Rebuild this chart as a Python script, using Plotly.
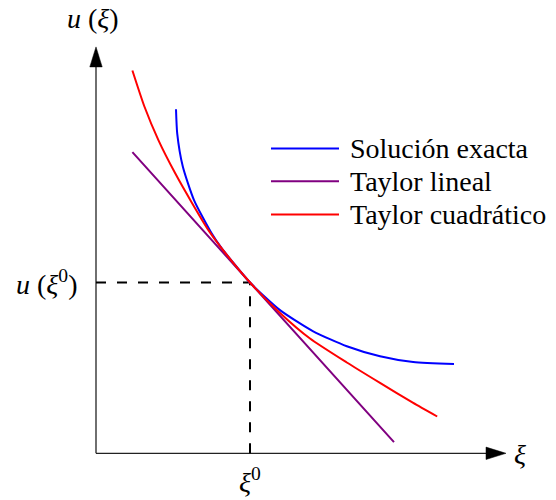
import plotly.graph_objects as go

# ---- data ----
xi0 = 3.85
u0 = 4.27

exact_xi = [2.0, 2.03, 2.17, 2.45, 2.89, 3.14, 3.85, 4.6, 5.43, 6.27, 7.1, 7.93, 8.95]
exact_u = [8.6, 8.0, 7.17, 6.33, 5.5, 5.13, 4.27, 3.58, 3.05, 2.675, 2.425, 2.28, 2.23]

lin_xi = [0.91, 3.85, 7.45]
lin_u = [7.53, 4.27, 0.28]

quad_xi = [0.91, 1.21, 1.56, 1.98, 2.4, 2.81, 3.1, 3.85, 4.6, 5.35, 6.27, 7.1, 7.93, 8.53]
quad_u = [9.57, 8.67, 7.83, 7.0, 6.26, 5.58, 5.18, 4.27, 3.51, 2.87, 2.27, 1.76, 1.26, 0.92]

names = ["Solución exacta", "Taylor lineal", "Taylor cuadrático"]
colors = ["#0000ff", "#800080", "#ff0000"]

# ---- axis geometry (data units) ----
x_range = [-2.4, 11.5]
y_range = [-1.1675, 11.3325]
x_tip, y_tip = 10.25, 10.16
head_len, head_half = 0.5, 0.155

FONT = "Liberation Serif"
FS = 28
fig = go.Figure()

series = [(exact_xi, exact_u), (lin_xi, lin_u), (quad_xi, quad_u)]
for (xs, ys), nm, col in zip(series, names, colors):
    fig.add_trace(go.Scatter(x=xs, y=ys, mode="lines", name=nm,
                             line=dict(color=col, width=2, shape="spline", smoothing=0.6),
                             showlegend=False, hoverinfo="skip"))

shapes = []
ax_col = "#222222"
# axes
shapes.append(dict(type="line", x0=0, y0=0, x1=x_tip - head_len, y1=0,
                   line=dict(color=ax_col, width=1.3), layer="below"))
shapes.append(dict(type="line", x0=0, y0=0, x1=0, y1=y_tip - head_len,
                   line=dict(color=ax_col, width=1.3), layer="below"))
# arrow heads
shapes.append(dict(type="path",
                   path=f"M {x_tip},0 L {x_tip-head_len},{head_half} L {x_tip-head_len},{-head_half} Z",
                   fillcolor="black", line=dict(color="black", width=0.5)))
shapes.append(dict(type="path",
                   path=f"M 0,{y_tip} L {-head_half},{y_tip-head_len} L {head_half},{y_tip-head_len} Z",
                   fillcolor="black", line=dict(color="black", width=0.5)))
# dashed guides
shapes.append(dict(type="line", x0=0, y0=u0, x1=xi0, y1=u0,
                   line=dict(color="black", width=2, dash="10px,11px"), layer="below"))
shapes.append(dict(type="line", x0=xi0, y0=0, x1=xi0, y1=u0,
                   line=dict(color="black", width=2, dash="10px,11px"), layer="below"))

# manual legend
leg_y = [7.62, 6.8, 5.97]
annotations = []
for nm, col, yy in zip(names, colors, leg_y):
    shapes.append(dict(type="line", x0=4.375, x1=6.075, y0=yy, y1=yy,
                       line=dict(color=col, width=2)))
    annotations.append(dict(x=6.3, y=yy, text=nm, showarrow=False,
                            xanchor="left", yanchor="middle",
                            font=dict(family=FONT, size=FS, color="black")))

# axis labels
annotations += [
    dict(x=-0.075, y=10.86, text="<i>u</i> (<i>ξ</i>)", showarrow=False,
         xanchor="center", yanchor="middle", font=dict(family=FONT, size=FS, color="black")),
    dict(x=-1.25, y=u0, text="<i>u</i> (<i>ξ</i><sup>0</sup>)", showarrow=False,
         xanchor="center", yanchor="middle", font=dict(family=FONT, size=FS, color="black")),
    dict(x=xi0, y=-0.67, text="<i>ξ</i><sup>0</sup>", showarrow=False,
         xanchor="center", yanchor="middle", font=dict(family=FONT, size=FS, color="black")),
    dict(x=10.6, y=-0.04, text="<i>ξ</i>", showarrow=False,
         xanchor="center", yanchor="middle", font=dict(family=FONT, size=FS, color="black")),
]

fig.update_layout(
    width=556, height=500, margin=dict(l=0, r=0, t=0, b=0),
    paper_bgcolor="white", plot_bgcolor="white",
    xaxis=dict(range=x_range, visible=False, fixedrange=True),
    yaxis=dict(range=y_range, visible=False, fixedrange=True),
    shapes=shapes, annotations=annotations, showlegend=False,
)

fig.write_html("out.html")
